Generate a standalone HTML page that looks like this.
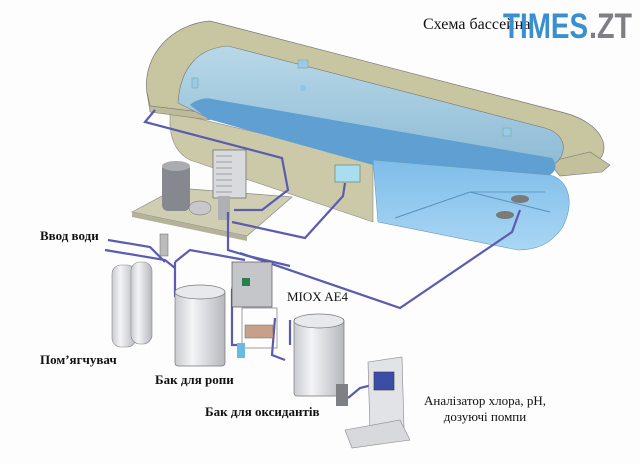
<!DOCTYPE html>
<html><head><meta charset="utf-8"><style>
html,body{margin:0;padding:0;background:#fff;}
svg{display:block}
</style></head><body>
<svg width="640" height="463" viewBox="0 0 640 463" font-family="Liberation Serif, serif">
<defs>
<linearGradient id="cyl" x1="0" x2="1"><stop offset="0" stop-color="#c9cbd0"/><stop offset=".35" stop-color="#f4f4f6"/><stop offset="1" stop-color="#b5b7bd"/></linearGradient>
<linearGradient id="glass" x1="0" y1="0" x2="0" y2="1"><stop offset="0" stop-color="#7fbde9"/><stop offset="1" stop-color="#a9d6f4"/></linearGradient>
<linearGradient id="back" x1="0" y1="0" x2="0" y2="1"><stop offset="0" stop-color="#b8d8e8"/><stop offset="1" stop-color="#8fbcd6"/></linearGradient>
</defs>
<rect width="640" height="463" fill="#fdfdfd"/>
<path d="M147,93 C142,55 172,24 210,21 L565,113 C605,124 612,152 596,162 L560,170 L208,113 L150,106 Z" fill="#c8c6a1" stroke="#777" stroke-width=".7"/>
<path d="M548,162 L590,152 L610,165 L602,172 L560,176 Z" fill="#c3c19c" stroke="#777" stroke-width=".6"/>
<path d="M170,112 L373,160 L373,222 L190,160 C176,153 171,140 170,125 Z" fill="#cbc9a8" stroke="#888" stroke-width=".6"/>
<path d="M147,93 L150,106 L208,113 L210,120 L150,112 Z" fill="#bdbb98" stroke="#777" stroke-width=".5"/>
<path d="M178,103 C180,68 198,48 228,46 L545,128 C566,134 568,152 556,163 L373,162 L208,118 Z" fill="url(#back)" stroke="#777" stroke-width=".6"/>
<path d="M190,105 C195,100 205,97 212,99 L552,158 C558,165 556,172 548,176 L373,165 L208,119 Z" fill="#5f9fd2"/>
<path d="M373,160 L550,175 C570,180 575,205 562,228 C550,245 535,250 518,250 L378,222 Z" fill="url(#glass)" stroke="#6b9ab8" stroke-width=".6"/>
<path d="M395,218 L470,192 L550,212" fill="none" stroke="#5a8fbd" stroke-width="1"/>
<path d="M470,192 L545,192" fill="none" stroke="#5a8fbd" stroke-width=".8"/>
<rect x="192" y="78" width="6" height="10" fill="#9cc8ea" stroke="#6a8" stroke-width=".5"/>
<rect x="298" y="60" width="10" height="8" fill="#9cc8ea" stroke="#6a8" stroke-width=".5"/>
<circle cx="303" cy="88" r="3" fill="#8fc3ea"/>
<rect x="503" y="128" width="8" height="8" fill="#9cc8ea" stroke="#6a8" stroke-width=".5"/>
<ellipse cx="505" cy="215" rx="9" ry="4" fill="#7a7a78"/>
<ellipse cx="520" cy="199" rx="9" ry="4" fill="#7a7a78"/>
<path d="M132,212 L177,188 L292,197 L247,236 Z" fill="#d0ceb2" stroke="#888" stroke-width=".7"/>
<path d="M132,212 L247,236 L247,241 L132,217 Z" fill="#b4b29a"/>
<rect x="162" y="163" width="28" height="48" rx="6" fill="#85888e"/>
<ellipse cx="176" cy="166" rx="14" ry="5" fill="#a9acb1"/>
<rect x="213" y="150" width="33" height="48" fill="#d8dade" stroke="#666" stroke-width=".7"/>
<g stroke="#777" stroke-width=".6"><line x1="216" y1="156" x2="232" y2="156"/><line x1="216" y1="162" x2="232" y2="162"/><line x1="216" y1="168" x2="232" y2="168"/><line x1="216" y1="174" x2="232" y2="174"/><line x1="216" y1="180" x2="232" y2="180"/><line x1="216" y1="186" x2="232" y2="186"/><line x1="216" y1="192" x2="232" y2="192"/></g>
<ellipse cx="200" cy="208" rx="11" ry="7" fill="#c6c8cc" stroke="#666" stroke-width=".5"/>
<rect x="218" y="196" width="12" height="24" fill="#aeb0b4"/>
<rect x="335" y="165" width="25" height="17" fill="#a9ddf0" stroke="#577" stroke-width=".6"/>
<g fill="none" stroke="#5b5bb0" stroke-width="2.2">
<path d="M155,110 L145,122 L282,158 L288,190 L262,210 L234,210"/>
<path d="M345,183 L343,196 L305,238 L232,222"/>
<path d="M228,212 L228,250 L248,256 L290,266"/>
<path d="M520,210 L512,232 L400,308 L240,253"/>
<path d="M108,240 L150,247 L165,262"/>
<path d="M105,250 L165,260 L175,268"/>
<path d="M175,262 L190,250 L245,260"/>
<path d="M175,262 L175,297"/>
<path d="M240,262 L232,290 L232,345 L245,345"/>
<path d="M275,318 L272,355 L285,360"/>
<path d="M290,320 L290,345"/>
<path d="M348,398 L360,388 L372,385"/>
</g>
<rect x="112" y="265" width="24" height="82" rx="9" fill="url(#cyl)" stroke="#888" stroke-width=".6"/>
<rect x="131" y="262" width="21" height="82" rx="9" fill="url(#cyl)" stroke="#888" stroke-width=".6"/>
<rect x="160" y="234" width="8" height="22" fill="#bbb" stroke="#666" stroke-width=".5"/>
<rect x="175" y="290" width="50" height="76" rx="3" fill="url(#cyl)" stroke="#777" stroke-width=".7"/>
<ellipse cx="200" cy="292" rx="25" ry="7" fill="#e8e9ec" stroke="#777" stroke-width=".7"/>
<rect x="232" y="262" width="40" height="45" fill="#c4c6ca" stroke="#555" stroke-width=".7"/>
<rect x="242" y="278" width="8" height="8" fill="#2f7f4c"/>
<rect x="242" y="308" width="35" height="40" fill="none" stroke="#777" stroke-width=".7"/>
<rect x="245" y="325" width="28" height="13" fill="#c8a08a" stroke="#666" stroke-width=".5"/>
<rect x="237" y="343" width="8" height="15" fill="#69b9e0"/>
<rect x="294" y="318" width="50" height="78" rx="3" fill="url(#cyl)" stroke="#777" stroke-width=".7"/>
<ellipse cx="319" cy="321" rx="25" ry="7" fill="#e8e9ec" stroke="#777" stroke-width=".7"/>
<rect x="336" y="384" width="12" height="22" fill="#7d8085"/>
<path d="M368,362 L402,357 L404,428 L370,432 Z" fill="#e2e3e6" stroke="#888" stroke-width=".6"/>
<rect x="374" y="372" width="20" height="18" fill="#3a4ea8" stroke="#334" stroke-width=".6"/>
<path d="M345,430 L400,420 L410,440 L352,448 Z" fill="#d8d9dc" stroke="#888" stroke-width=".6"/>
<text x="423" y="29" font-size="16" fill="#111">Схема бассейна</text>
<text x="503" y="38" font-family="Liberation Sans, sans-serif" font-weight="bold" font-size="35" fill="#3a8fd0" textLength="85" lengthAdjust="spacingAndGlyphs">TIMES</text>
<text x="589" y="38" font-family="Liberation Sans, sans-serif" font-weight="bold" font-size="35" fill="#7d7f82" textLength="43" lengthAdjust="spacingAndGlyphs">.ZT</text>
<text x="40" y="240" font-size="13" font-weight="bold" fill="#111">Ввод води</text>
<text x="40" y="364" font-size="13" font-weight="bold" fill="#111">Пом’ягчувач</text>
<text x="155" y="384" font-size="13" font-weight="bold" fill="#111">Бак для ропи</text>
<text x="287" y="301" font-size="13" fill="#111">MIOX AE4</text>
<text x="205" y="416" font-size="13" font-weight="bold" fill="#111">Бак для оксидантів</text>
<text x="485" y="405" font-size="13" text-anchor="middle" fill="#111">Аналізатор хлора, pH,</text>
<text x="485" y="421" font-size="13" text-anchor="middle" fill="#111">дозуючі помпи</text>
</svg>
</body></html>
